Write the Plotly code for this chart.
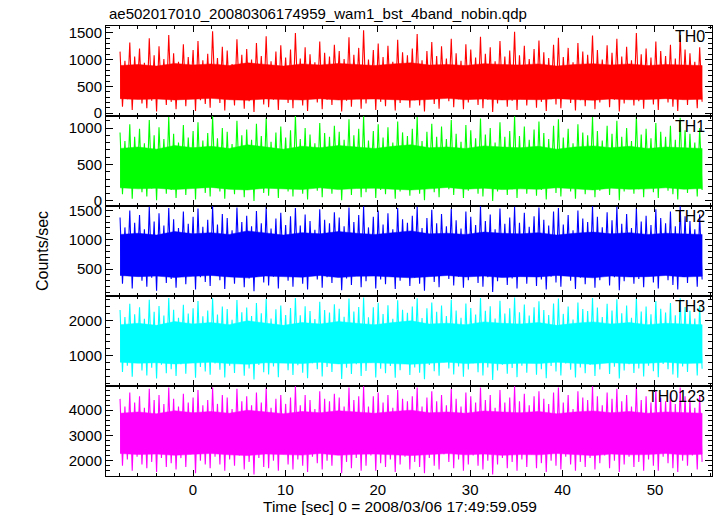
import numpy as np
import plotly.graph_objects as go
from plotly.subplots import make_subplots

TITLE = "ae502017010_20080306174959_wam1_bst_4band_nobin.qdp"
XTITLE = "Time [sec] 0 = 2008/03/06 17:49:59.059"
YTITLE = "Counts/sec"
T_START = -7.9
T_END = 55.1

names = ["TH0", "TH1", "TH2", "TH3", "TH0123"]
colors = ["#ff0000", "#00ff00", "#0000ff", "#00ffff", "#ff00ff"]

# light-curve samples (counts/sec)
th0 = [
    1150, 120, 980, 260, 1320, 60, 1060, 340, 1210, 180, 940, 90, 1400, 230, 1080, 30, 1250, 300, 1010, 150,
    1460, 210, 1120, 70, 960, 280, 1290, 130, 1050, 360, 1180, 40, 1350, 240, 990, 170, 1110, 100, 1530, 310,
    1030, 190, 1240, 50, 1170, 260, 920, 140, 1380, 330, 1090, 80, 1200, 220, 1000, 20, 1310, 290, 1070, 160,
    1440, 110, 970, 250, 1150, 60, 1270, 350, 1040, 190, 1190, 90, 1500, 270, 1020, 140, 1230, 40, 1100, 320,
    950, 200, 1340, 70, 1130, 250, 1060, 150, 1280, 380, 1160, 30, 1010, 230, 1420, 120, 1090, 300, 1220, 80,
    1550, 180, 1000, 340, 1180, 60, 1300, 210, 1050, 130, 1260, 270, 960, 50, 1370, 190, 1140, 310, 1080, 100,
    1210, 240, 1480, 140, 990, 30, 1160, 290, 1330, 170, 1070, 80, 1250, 360, 1020, 220, 1390, 110, 1120, 260,
    980, 70, 1290, 200, 1190, 330, 1040, 150, 1430, 90, 1110, 250, 1230, 20, 970, 180, 1350, 300, 1060, 120,
    1170, 230, 1520, 60, 1080, 280, 1260, 140, 1010, 350, 1200, 100, 1360, 210, 1140, 40, 1030, 260, 1280, 160,
    1410, 90, 1050, 320, 1220, 190, 950, 50, 1310, 240, 1150, 130, 1090, 290, 1450, 70, 1180, 200, 1000, 340,
    1270, 110, 1130, 250, 1390, 30, 1060, 180, 1240, 300, 990, 140, 1500, 220, 1100, 80, 1210, 270, 1040, 160,
    1340, 60, 1160, 310, 1070, 200, 1280, 120, 1020, 40, 1460, 260, 1190, 150, 1120, 330, 960, 90, 1230, 210,
]

th1 = [
    940, 90, 820, 200, 1050, 30, 880, 250, 990, 120, 790, 60, 1110, 170, 900, 10, 1010, 230, 850, 100,
    1150, 150, 920, 40, 800, 210, 1040, 80, 870, 270, 960, 20, 1080, 180, 830, 110, 930, 60, 1160, 240,
    860, 130, 1000, 30, 950, 190, 780, 90, 1100, 250, 900, 50, 980, 160, 840, 0, 1060, 220, 890, 110,
    1140, 70, 810, 180, 940, 40, 1020, 260, 870, 130, 970, 60, 1170, 200, 850, 100, 1000, 20, 910, 240,
    790, 140, 1070, 50, 930, 180, 880, 100, 1030, 280, 950, 10, 840, 170, 1120, 80, 900, 220, 990, 50,
    1160, 120, 830, 250, 960, 40, 1050, 150, 870, 90, 1010, 200, 800, 30, 1090, 130, 940, 230, 890, 70,
    990, 170, 1150, 100, 820, 10, 950, 210, 1060, 120, 880, 50, 1020, 270, 850, 160, 1110, 80, 920, 190,
    810, 40, 1040, 140, 970, 240, 860, 100, 1130, 60, 910, 180, 1000, 0, 800, 130, 1080, 220, 880, 80,
    960, 160, 1160, 40, 890, 200, 1020, 100, 840, 260, 980, 70, 1090, 150, 930, 20, 850, 190, 1030, 110,
    1120, 60, 870, 230, 990, 130, 790, 30, 1050, 170, 940, 90, 900, 210, 1150, 50, 960, 140, 830, 250,
    1030, 80, 920, 180, 1100, 10, 880, 130, 1000, 220, 820, 100, 1170, 160, 910, 50, 990, 200, 860, 120,
    1070, 40, 950, 230, 880, 140, 1030, 90, 840, 20, 1140, 190, 970, 110, 920, 240, 800, 60, 1000, 150,
]

th2 = [
    1380, 250, 1210, 380, 1500, 170, 1290, 440, 1420, 300, 1180, 200, 1560, 350, 1310, 130, 1450, 410, 1240, 260,
    1540, 330, 1350, 180, 1200, 400, 1480, 240, 1270, 460, 1390, 150, 1530, 360, 1220, 280, 1340, 210, 1570, 430,
    1260, 310, 1440, 160, 1370, 380, 1160, 250, 1550, 450, 1300, 190, 1410, 340, 1230, 120, 1490, 400, 1280, 270,
    1560, 220, 1190, 370, 1360, 170, 1460, 470, 1250, 300, 1400, 200, 1540, 390, 1240, 250, 1430, 150, 1320, 440,
    1170, 320, 1520, 180, 1340, 360, 1280, 260, 1470, 490, 1380, 140, 1230, 340, 1550, 230, 1300, 420, 1420, 190,
    1570, 290, 1210, 450, 1390, 170, 1500, 320, 1260, 240, 1450, 380, 1180, 160, 1540, 300, 1350, 430, 1290, 210,
    1410, 350, 1560, 250, 1200, 130, 1370, 400, 1510, 280, 1280, 190, 1440, 470, 1230, 330, 1530, 220, 1330, 370,
    1190, 180, 1480, 310, 1390, 440, 1250, 260, 1570, 200, 1320, 360, 1430, 110, 1180, 290, 1530, 410, 1270, 230,
    1380, 340, 1560, 170, 1290, 390, 1460, 250, 1220, 460, 1400, 210, 1550, 320, 1340, 150, 1240, 370, 1480, 270,
    1540, 200, 1260, 430, 1420, 300, 1160, 160, 1500, 350, 1360, 240, 1300, 400, 1570, 180, 1390, 310, 1210, 450,
    1470, 220, 1330, 360, 1560, 140, 1270, 290, 1440, 410, 1200, 250, 1550, 330, 1310, 190, 1410, 380, 1250, 270,
    1520, 170, 1370, 420, 1280, 310, 1480, 230, 1230, 150, 1570, 370, 1400, 260, 1320, 440, 1180, 200, 1430, 320,
]

th3 = [
    2300, 520, 2100, 700, 2480, 380, 2180, 780, 2380, 560, 2050, 420, 2600, 640, 2250, 330, 2420, 730, 2140, 480,
    2650, 600, 2310, 400, 2080, 740, 2450, 470, 2200, 800, 2350, 350, 2560, 660, 2120, 530, 2290, 440, 2640, 760,
    2170, 580, 2400, 360, 2330, 700, 2020, 490, 2590, 790, 2240, 410, 2370, 620, 2130, 300, 2500, 720, 2210, 510,
    2620, 450, 2060, 680, 2320, 370, 2430, 810, 2160, 570, 2360, 430, 2650, 710, 2150, 500, 2410, 340, 2270, 770,
    2040, 600, 2540, 390, 2300, 660, 2230, 520, 2470, 830, 2340, 320, 2110, 640, 2630, 460, 2260, 740, 2390, 400,
    2660, 550, 2090, 790, 2380, 360, 2510, 610, 2190, 480, 2440, 690, 2050, 350, 2580, 570, 2310, 760, 2220, 430,
    2400, 650, 2640, 500, 2070, 310, 2350, 720, 2520, 540, 2250, 410, 2430, 800, 2130, 620, 2600, 450, 2290, 680,
    2080, 380, 2490, 590, 2360, 770, 2170, 510, 2650, 420, 2280, 650, 2410, 290, 2060, 560, 2570, 730, 2200, 470,
    2350, 630, 2660, 370, 2240, 700, 2460, 500, 2140, 810, 2380, 440, 2550, 600, 2300, 340, 2160, 690, 2490, 530,
    2630, 420, 2190, 760, 2400, 580, 2030, 360, 2520, 650, 2330, 480, 2270, 720, 2650, 400, 2370, 590, 2100, 790,
    2480, 460, 2290, 670, 2610, 330, 2210, 560, 2430, 740, 2080, 490, 2660, 620, 2260, 390, 2400, 700, 2180, 540,
    2560, 370, 2340, 750, 2230, 600, 2500, 450, 2150, 350, 2640, 680, 2390, 520, 2280, 780, 2060, 420, 2420, 610,
]

th0123 = [
    4450, 1800, 4150, 2050, 4700, 1600, 4300, 2150, 4550, 1850, 4100, 1700, 4850, 1950, 4400, 1550, 4600, 2100, 4250, 1750,
    4900, 1900, 4450, 1650, 4150, 2100, 4650, 1750, 4300, 2250, 4500, 1500, 4800, 2000, 4200, 1850, 4400, 1700, 4900, 2150,
    4250, 1850, 4600, 1600, 4500, 2050, 4050, 1800, 4850, 2200, 4350, 1650, 4550, 1950, 4200, 1450, 4700, 2100, 4300, 1750,
    4900, 1700, 4100, 2000, 4450, 1600, 4600, 2250, 4250, 1850, 4500, 1650, 4950, 2050, 4200, 1800, 4600, 1550, 4400, 2150,
    4050, 1900, 4750, 1650, 4450, 2000, 4350, 1800, 4650, 2300, 4500, 1500, 4150, 1950, 4900, 1700, 4400, 2100, 4550, 1600,
    4950, 1800, 4150, 2200, 4550, 1600, 4700, 1900, 4300, 1750, 4600, 2050, 4100, 1550, 4800, 1850, 4450, 2150, 4350, 1650,
    4550, 1950, 4900, 1750, 4150, 1500, 4500, 2100, 4750, 1800, 4350, 1650, 4600, 2250, 4200, 1950, 4850, 1700, 4450, 2050,
    4150, 1600, 4700, 1850, 4550, 2200, 4300, 1800, 4900, 1650, 4400, 2000, 4600, 1450, 4100, 1850, 4800, 2100, 4300, 1700,
    4500, 1950, 4950, 1600, 4350, 2050, 4650, 1750, 4200, 2250, 4550, 1700, 4750, 1900, 4450, 1550, 4250, 2000, 4700, 1800,
    4900, 1650, 4300, 2150, 4600, 1850, 4050, 1600, 4750, 1950, 4500, 1750, 4400, 2100, 4950, 1650, 4550, 1900, 4200, 2200,
    4700, 1700, 4450, 2000, 4850, 1550, 4350, 1850, 4600, 2150, 4150, 1750, 4950, 1950, 4400, 1600, 4550, 2050, 4300, 1800,
    4800, 1600, 4500, 2150, 4350, 1900, 4700, 1700, 4250, 1550, 4900, 2000, 4550, 1800, 4400, 2200, 4100, 1650, 4600, 1950,
]

# dense-core envelopes (where the densely sampled curve looks solid), every ~2 s
th0_lo = [270, 255, 265, 245, 260, 275, 250, 240, 265, 255, 245, 270, 245, 260, 265, 250, 240,
          255, 275, 250, 265, 245, 255, 250, 270, 255, 240, 265, 250, 255, 270, 250, 260]
th0_hi = [890, 910, 880, 930, 900, 920, 890, 940, 910, 880, 920, 900, 930, 910, 890, 920, 940,
          900, 910, 890, 925, 910, 900, 920, 880, 910, 925, 900, 920, 890, 910, 900, 890]
th1_lo = [180, 165, 175, 155, 170, 185, 160, 150, 175, 165, 155, 180, 155, 170, 175, 160, 150,
          165, 185, 160, 175, 155, 165, 160, 180, 165, 150, 175, 160, 165, 180, 160, 170]
th1_hi = [720, 740, 710, 760, 730, 750, 720, 770, 740, 710, 750, 730, 760, 740, 720, 750, 770,
          730, 740, 720, 755, 740, 730, 750, 710, 740, 755, 730, 750, 720, 740, 730, 720]
th2_lo = [390, 370, 380, 355, 375, 390, 365, 350, 380, 370, 360, 390, 355, 375, 380, 365, 350,
          370, 390, 365, 380, 355, 370, 365, 390, 370, 350, 380, 365, 370, 390, 365, 375]
th2_hi = [1090, 1110, 1080, 1140, 1100, 1120, 1090, 1150, 1110, 1080, 1120, 1100, 1140, 1110, 1090, 1120, 1150,
          1100, 1110, 1090, 1130, 1110, 1100, 1120, 1080, 1110, 1130, 1100, 1120, 1090, 1110, 1100, 1090]
th3_lo = [800, 770, 785, 750, 775, 800, 760, 740, 785, 770, 760, 800, 750, 775, 785, 760, 740,
          770, 800, 760, 785, 750, 770, 760, 800, 770, 740, 785, 760, 770, 800, 760, 775]
th3_hi = [1880, 1920, 1860, 1970, 1900, 1940, 1880, 1990, 1920, 1860, 1940, 1900, 1970, 1920, 1880, 1940, 1990,
          1900, 1920, 1880, 1960, 1920, 1900, 1940, 1860, 1920, 1960, 1900, 1940, 1880, 1920, 1900, 1880]
th0123_lo = [2280, 2240, 2260, 2210, 2250, 2280, 2230, 2200, 2260, 2240, 2220, 2280, 2210, 2250, 2260, 2230, 2200,
             2240, 2280, 2230, 2260, 2210, 2240, 2230, 2280, 2240, 2200, 2260, 2230, 2240, 2280, 2230, 2250]
th0123_hi = [3880, 3930, 3860, 3980, 3900, 3950, 3880, 4000, 3930, 3860, 3950, 3900, 3980, 3930, 3880, 3950, 4000,
             3900, 3930, 3880, 3970, 3930, 3900, 3950, 3860, 3930, 3970, 3900, 3950, 3880, 3930, 3900, 3880]

series = [th0, th1, th2, th3, th0123]
cores = [(th0_lo, th0_hi), (th1_lo, th1_hi), (th2_lo, th2_hi), (th3_lo, th3_hi), (th0123_lo, th0123_hi)]
y_ranges = [[-55, 1630], [-70, 1165], [40, 1575], [115, 2705], [1390, 4960]]
y_dticks = [500, 500, 500, 1000, 1000]
y_minor = [100, 100, 100, 200, 200]

FONT = "Liberation Sans, Arial, Helvetica, sans-serif"

fig = make_subplots(rows=5, cols=1, shared_xaxes=True, vertical_spacing=0)

for i, (vals, col, (lo, hi)) in enumerate(zip(series, colors, cores)):
    te = np.linspace(T_START, T_END, len(lo))
    fig.add_trace(
        go.Scatter(x=np.concatenate([te, te[::-1]]), y=list(lo) + list(hi)[::-1],
                   mode="lines", fill="toself", fillcolor=col, line=dict(color=col, width=0.5),
                   showlegend=False, hoverinfo="skip"),
        row=i + 1, col=1,
    )
    t = np.linspace(T_START, T_END, len(vals))
    fig.add_trace(
        go.Scatter(x=t, y=vals, mode="lines", line=dict(color=col, width=1.1),
                   showlegend=False, hoverinfo="skip"),
        row=i + 1, col=1,
    )

for i in range(5):
    n = "" if i == 0 else str(i + 1)
    fig.layout["yaxis" + n].update(
        range=y_ranges[i], dtick=y_dticks[i], tick0=0,
        ticks="inside", ticklen=7, tickwidth=1, tickcolor="black",
        showline=True, linecolor="black", linewidth=1, mirror="ticks",
        showgrid=False, zeroline=False,
        minor=dict(dtick=y_minor[i], ticks="inside", ticklen=4, tickcolor="black", showgrid=False),
        tickfont=dict(family=FONT, size=15, color="black"),
    )
    fig.layout["xaxis" + n].update(
        range=[-9.42, 56.17], dtick=10, tick0=0,
        ticks="inside", ticklen=6, tickwidth=1, tickcolor="black",
        showline=True, linecolor="black", linewidth=1, mirror="ticks",
        showgrid=False, zeroline=False,
        minor=dict(dtick=2, ticks="inside", ticklen=3, tickcolor="black", showgrid=False),
        tickfont=dict(family=FONT, size=15, color="black"),
        showticklabels=(i == 4),
    )

annotations = []
for i, name in enumerate(names):
    n = "" if i == 0 else str(i + 1)
    top = fig.layout["yaxis" + n].domain[1]
    annotations.append(dict(
        text=name, xref="paper", yref="paper", x=1, y=top, xanchor="right", yanchor="top",
        xshift=-5, yshift=0, showarrow=False, font=dict(family=FONT, size=16, color="black"),
    ))

annotations.append(dict(
    text=TITLE, xref="paper", yref="paper", x=0, y=1, xanchor="left", yanchor="bottom",
    xshift=1, yshift=2, showarrow=False, font=dict(family=FONT, size=15, color="black"),
))
annotations.append(dict(
    text=XTITLE, xref="paper", yref="paper", x=0.485, y=0, xanchor="center", yanchor="top",
    yshift=-20, showarrow=False, font=dict(family=FONT, size=15.5, color="black"),
))
annotations.append(dict(
    text=YTITLE, xref="paper", yref="paper", x=0, y=0.5, xanchor="center", yanchor="middle",
    xshift=-64, textangle=-90, showarrow=False, font=dict(family=FONT, size=16, color="black"),
))

fig.update_layout(
    width=717, height=516,
    margin=dict(l=106, r=5, t=26, b=40),
    paper_bgcolor="white", plot_bgcolor="white",
    annotations=annotations,
    font=dict(family=FONT, color="black"),
)

fig.write_html("out.html", config={"displayModeBar": False},
               post_script="document.body.style.margin='0';document.body.style.overflow='hidden';")
